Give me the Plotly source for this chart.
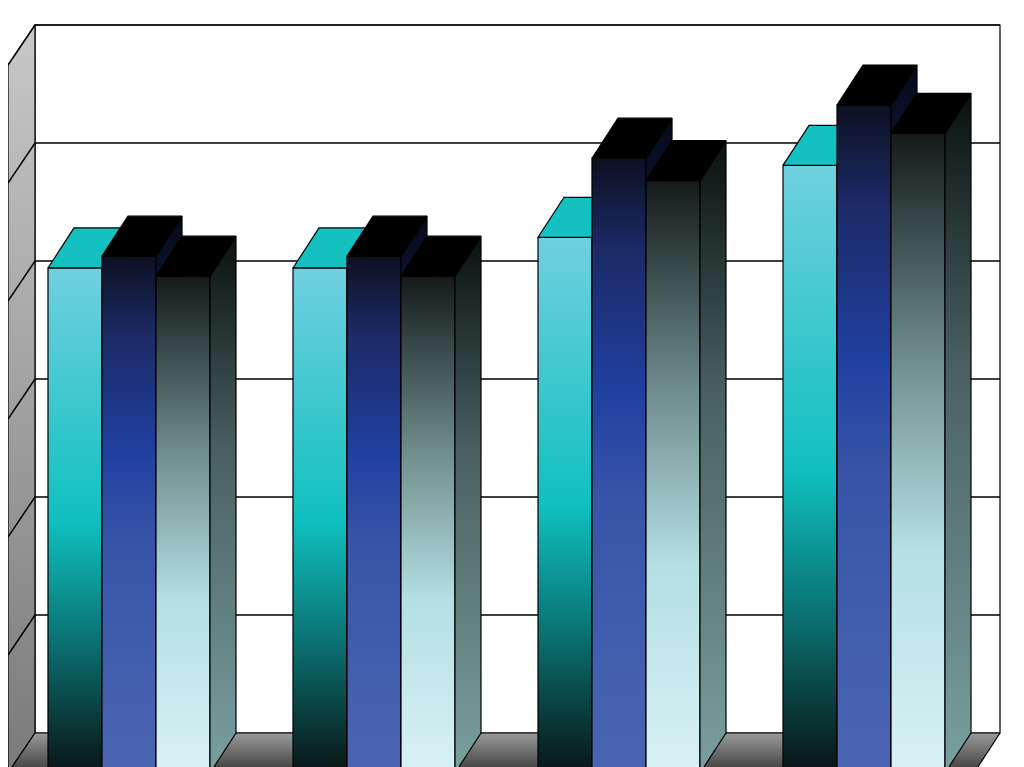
import plotly.graph_objects as go

groups = ["G1", "G2", "G3", "G4"]
series_a = [4.28, 4.28, 4.54, 5.15]   # cyan
series_b = [4.38, 4.38, 5.21, 5.66]   # navy
series_c = [4.21, 4.21, 5.02, 5.42]   # gray
grid_vals = [0, 1, 2, 3, 4, 5, 6]

U = 118.0
DX, DY = 26, 40 / U
X0, GAP, BW = 48, 245, 54
WALL_L, WALL_R = 35, 1000

fronts = [
    [[0, "#0a1414"], [0.25, "#0a6e6e"], [0.5, "#10c0c0"], [1, "#70d0e0"]],
    [[0, "#4a66b2"], [0.45, "#3854a8"], [0.62, "#2040a0"], [0.85, "#1c2a66"], [1, "#0c1022"]],
    [[0, "#d8f2f6"], [0.35, "#b4dfe3"], [0.65, "#6e8c8c"], [1, "#141a1a"]],
]
sides = [
    [[0, "#041010"], [0.5, "#0a8a8a"], [1, "#3aa8b0"]],
    [[0, "#2a3e80"], [0.6, "#14286a"], [1, "#060a18"]],
    [[0, "#7aa0a0"], [0.6, "#4a6060"], [1, "#0a1010"]],
]
tops = ["#14c0c0", "#000000", "#000000"]

fig = go.Figure()

def poly(xs, ys, color=None, grad=None, line="#000000", lw=1.2, start=None, stop=None):
    kw = dict(x=xs + [xs[0]], y=ys + [ys[0]], mode="lines", fill="toself",
              line=dict(color=line, width=lw), hoverinfo="skip", showlegend=False)
    if grad:
        kw["fillgradient"] = dict(type="vertical", colorscale=grad, start=start, stop=stop)
    else:
        kw["fillcolor"] = color
    fig.add_trace(go.Scatter(**kw))

top = 6.0 + DY
poly([WALL_L, WALL_R, WALL_R, WALL_L], [DY, DY, top, top], color="white")
poly([8, WALL_L, WALL_L, 8], [0, DY, top, 6.0], grad=[[0, "#7a7a7a"], [1, "#c8c8c8"]], start=0, stop=top)
for g in grid_vals[1:]:
    fig.add_trace(go.Scatter(x=[8, WALL_L, WALL_R], y=[g, g + DY, g + DY], mode="lines",
                             line=dict(color="black", width=1.5), hoverinfo="skip", showlegend=False))
poly([8, WALL_L, WALL_R, WALL_R - DX], [0, DY, DY, 0], grad=[[0, "#3a3a3a"], [1, "#9a9a9a"]], start=0, stop=DY)

for gi in range(len(groups)):
    for si, vals in enumerate([series_a, series_b, series_c]):
        v = vals[gi]
        x1 = X0 + gi * GAP + si * BW
        x2 = x1 + BW
        poly([x1, x2, x2, x1], [0, 0, v, v], grad=fronts[si], start=0, stop=v)
        poly([x2, x2 + DX, x2 + DX, x2], [0, DY, v + DY, v], grad=sides[si], start=0, stop=v + DY)
        poly([x1, x2, x2 + DX, x1 + DX], [v, v, v + DY, v + DY], color=tops[si])

fig.update_layout(
    width=1024, height=767, margin=dict(l=0, r=0, t=0, b=0),
    paper_bgcolor="white", plot_bgcolor="white",
    xaxis=dict(range=[8, 1032], visible=False, fixedrange=True),
    yaxis=dict(range=[-2 / U, 765 / U], visible=False, fixedrange=True),
)
fig.write_html("out.html")
